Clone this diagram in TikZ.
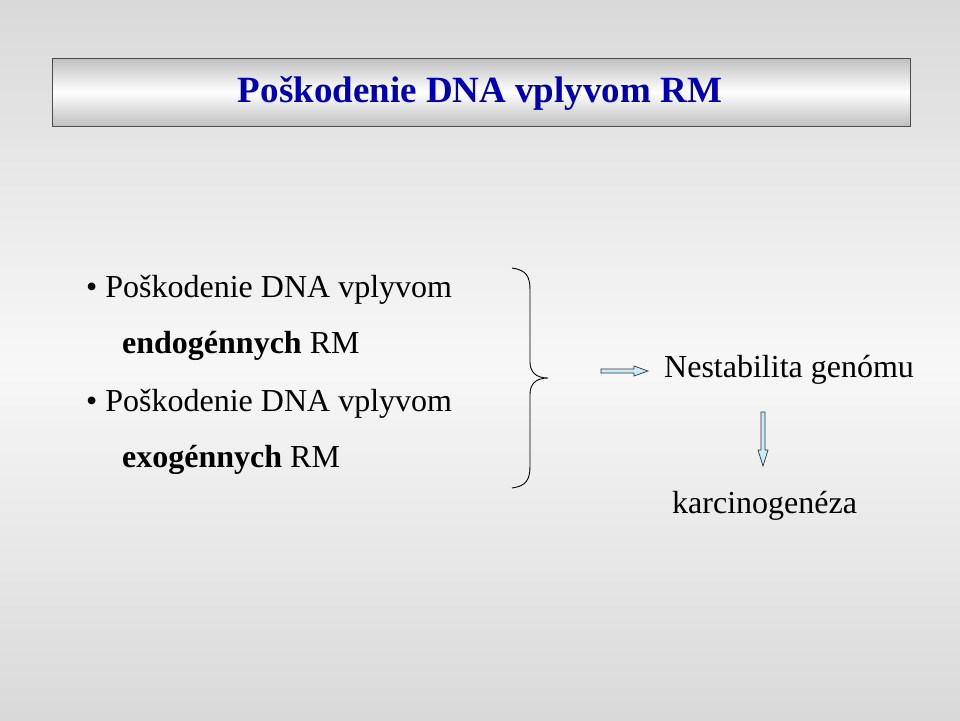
\documentclass[tikz,border=0pt]{standalone}
\usepackage{fontspec}
\setmainfont{Liberation Serif}
\begin{document}
\begin{tikzpicture}[x=1pt,y=-1pt,
  txt/.style={inner sep=0pt,font=\fontsize{32}{36}\selectfont},
  hollow/.style={draw=black!80,fill=cyan!22!white,line width=0.7pt}]
\useasboundingbox (0,0) rectangle (960,720);
\shade[top color=black!15,bottom color=black!15,middle color=black!3] (0,0) rectangle (960,720);
\shade[top color=black!25,bottom color=black!25,middle color=white,draw=black!70,line width=0.8pt] (52,58) rectangle (910,126);
\node[inner sep=0pt,text=blue!70!black,font=\fontsize{37}{40}\selectfont\bfseries] (title) at (480,93) {Poškodenie DNA vplyvom RM};
\node[txt,anchor=west] (b1) at (86,290) {\textbullet\ Poškodenie DNA vplyvom};
\node[txt,anchor=west] (b1b) at (122,346) {\textbf{endogénnych} RM};
\node[txt,anchor=west] (b2) at (86,404) {\textbullet\ Poškodenie DNA vplyvom};
\node[txt,anchor=west] (b2b) at (122,460) {\textbf{exogénnych} RM};
\node[txt,anchor=west] (n) at (664,370) {Nestabilita genómu};
\node[txt,anchor=west] (k) at (672,506) {karcinogenéza};
\draw[line width=0.9pt] (512,268) .. controls (526,270) and (530,276) .. (530,290) -- (530,362) .. controls (530,372) and (536,378) .. (548,378) .. controls (536,378) and (530,384) .. (530,394) -- (530,466) .. controls (530,480) and (526,486) .. (512,488);
\draw[hollow] (601,369) -- (634,369) -- (634,366) -- (648,371) -- (634,376) -- (634,373) -- (601,373) -- cycle;
\draw[hollow] (761,412) -- (765,412) -- (765,450) -- (768,450) -- (763,466) -- (758,450) -- (761,450) -- cycle;
\end{tikzpicture}
\end{document}
